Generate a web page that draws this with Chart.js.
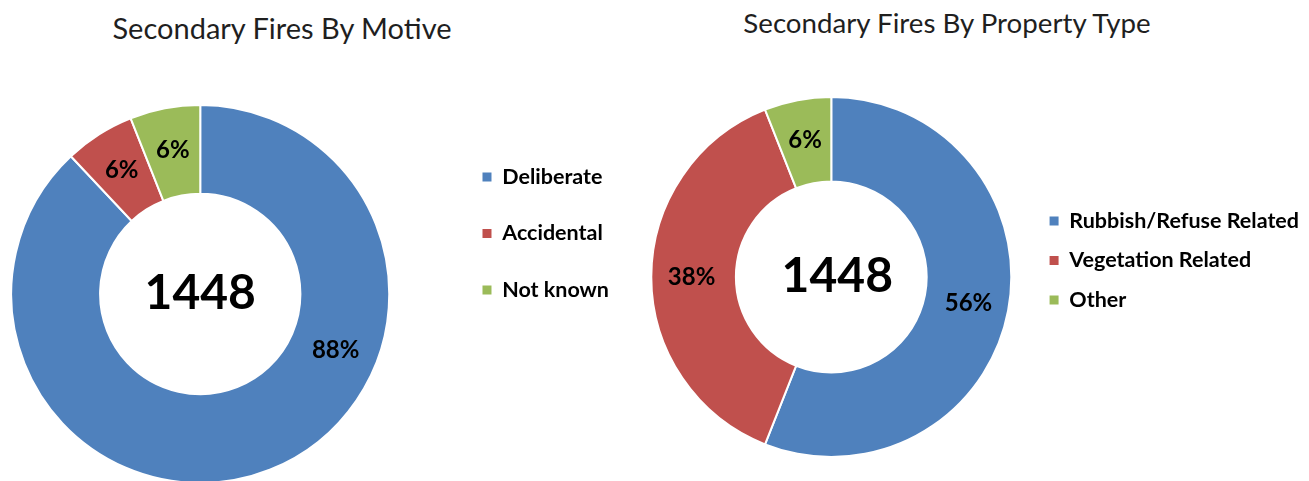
<!DOCTYPE html>
<html>
<head>
<meta charset="utf-8">
<title>Secondary Fires</title>
<script src="https://cdn.jsdelivr.net/npm/chart.js@4.4.1/dist/chart.umd.min.js"></script>
<style>
    html, body { margin: 0; padding: 0; background: #fff; }
    body { width: 1309px; height: 481px; position: relative; overflow: hidden; font-family: Lato, "Open Sans", sans-serif; }
    .chart-title { position: absolute; color: #1f1f1f; white-space: nowrap; transform: translate(-50%, -50%); }
    canvas { position: absolute; top: 0; }
</style>
</head>
<body>
<div class="chart-title" style="left:282px; top:27px; font-size:29px">Secondary Fires By Motive</div>
<div class="chart-title" style="left:947px; top:22px; font-size:27.7px">Secondary Fires By Property Type</div>
<canvas id="motiveChart" style="left:-47px"></canvas>
<canvas id="propertyChart" style="left:631px"></canvas>
<script>
const motiveLabels = ['Deliberate', 'Accidental', 'Not known'];
const motiveValues = [88, 6, 6];
const propertyLabels = ['Rubbish/Refuse Related', 'Vegetation Related', 'Other'];
const propertyValues = [56, 38, 6];
const totalFires = 1448;
const sliceColors = ['#4F81BD', '#C0504D', '#9BBB59'];

const legendFont = { family: 'Lato', size: 21.5, weight: 'bold' };
const legendBox = 9;

// draws the total in the hole of the ring
const centerText = {
    id: 'centerText',
    afterDatasetsDraw(chart, args, opts) {
        const arc = chart.getDatasetMeta(0).data[0];
        const ctx = chart.ctx;
        ctx.save();
        ctx.font = 'bold 48px Lato';
        ctx.fillStyle = '#000';
        ctx.textAlign = 'center';
        ctx.textBaseline = 'middle';
        ctx.fillText(String(opts.text), arc.x + (opts.dx || 0), arc.y);
        ctx.restore();
    }
};

// percentage labels in the middle of the ring
const percentLabels = {
    id: 'percentLabels',
    afterDatasetsDraw(chart, args, opts) {
        const ctx = chart.ctx;
        const values = chart.data.datasets[0].data;
        const anchor = opts.anchor || [];
        ctx.save();
        ctx.font = 'bold 24px Lato';
        ctx.fillStyle = '#000';
        ctx.textAlign = 'center';
        ctx.textBaseline = 'middle';
        chart.getDatasetMeta(0).data.forEach((arc, i) => {
            const p = arc.getProps(['x', 'y', 'startAngle', 'endAngle', 'innerRadius', 'outerRadius'], true);
            const t = anchor[i] != null ? anchor[i] : 0.5;
            const angle = p.startAngle + (p.endAngle - p.startAngle) * t;
            const r = (p.innerRadius + p.outerRadius) / 2 + 2;
            ctx.fillText(values[i] + '%', p.x + Math.cos(angle) * r, p.y + Math.sin(angle) * r);
        });
        ctx.restore();
    }
};

// width the legend will take, same sum as chart.js uses for a vertical legend
function legendWidth(labels, gap) {
    const ctx = document.createElement('canvas').getContext('2d');
    ctx.font = legendFont.weight + ' ' + legendFont.size + 'px ' + legendFont.family;
    const widest = Math.max(...labels.map(l => ctx.measureText(l).width));
    return gap + legendBox + legendFont.size / 2 + widest + 10;
}

function makeRing(canvasId, labels, values, opts) {
    const canvas = document.getElementById(canvasId);
    canvas.width = Math.ceil(opts.areaWidth + legendWidth(labels, opts.itemGap));
    canvas.height = opts.top + opts.areaHeight;
    return new Chart(canvas, {
        type: 'doughnut',
        data: {
            labels: labels,
            datasets: [{
                data: values,
                backgroundColor: sliceColors,
                borderColor: '#ffffff',
                borderWidth: 2,
                hoverOffset: 0
            }]
        },
        options: {
            responsive: false,
            animation: false,
            cutout: '53%',
            layout: {
                padding: { top: opts.top, right: 0, bottom: 0, left: 0 }
            },
            plugins: {
                tooltip: { enabled: false },
                legend: {
                    position: 'right',
                    align: 'start',
                    title: { display: true, text: '', font: { size: 10 }, padding: { top: opts.legendGap, bottom: 0 } },
                    labels: {
                        boxWidth: legendBox,
                        boxHeight: legendBox,
                        padding: opts.itemGap,
                        color: '#000',
                        font: legendFont,
                        generateLabels(chart) {
                            const items = Chart.overrides.doughnut.plugins.legend.labels.generateLabels(chart);
                            items.forEach(item => { item.lineWidth = 0; });
                            return items;
                        }
                    }
                },
                centerText: { text: totalFires, dx: opts.totalShift },
                percentLabels: { anchor: opts.anchor }
            }
        },
        plugins: [centerText, percentLabels]
    });
}

makeRing('motiveChart', motiveLabels, motiveValues, {
    top: 104, areaHeight: 380, areaWidth: 494, legendGap: 15.25, itemGap: 35, anchor: [0.355, 0.5, 0.5]
});
makeRing('propertyChart', propertyLabels, propertyValues, {
    top: 96, areaHeight: 362, areaWidth: 400, legendGap: 84.25, itemGap: 18, totalShift: 6
});
</script>
</body>
</html>
